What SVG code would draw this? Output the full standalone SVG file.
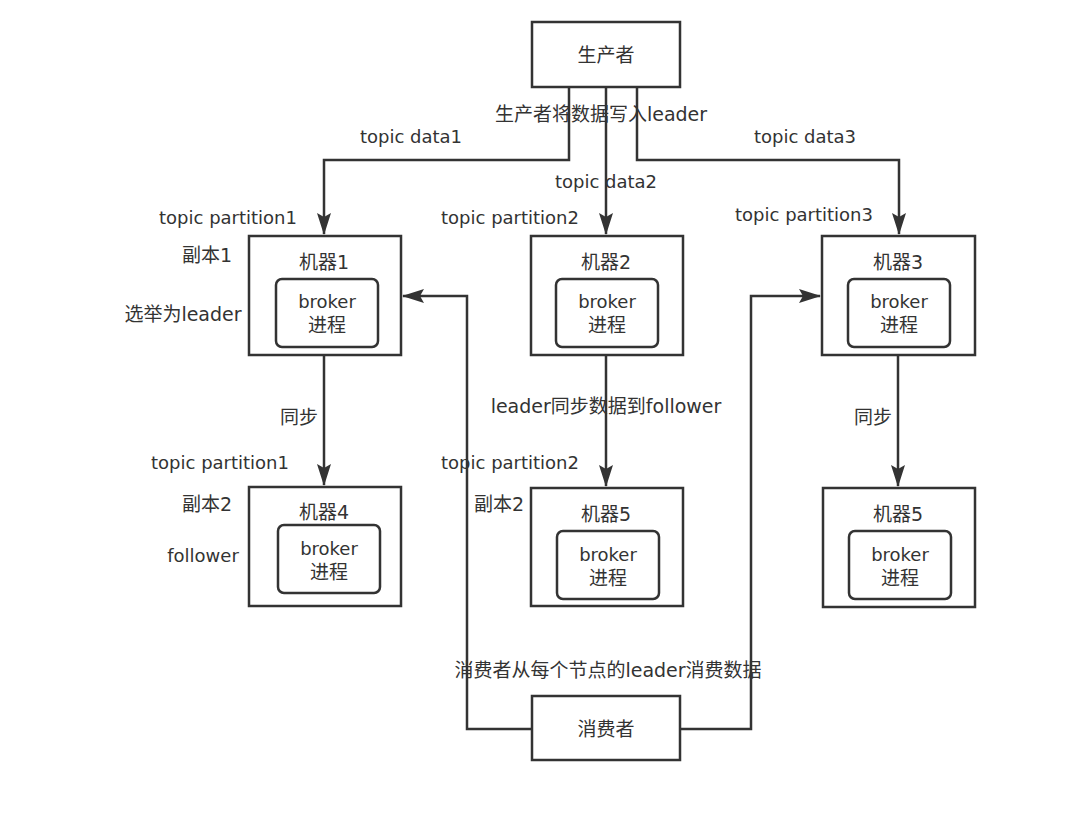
<svg xmlns="http://www.w3.org/2000/svg" width="1074" height="817" viewBox="0 0 1074 817">
<style>
.box{fill:#fff;stroke:#333;stroke-width:2.5}
.inner{fill:#fff;stroke:#333;stroke-width:2.5}
.ln{fill:none;stroke:#333;stroke-width:2.5}
text{font-family:"DejaVu Sans","Noto Sans CJK SC",sans-serif;font-size:18px;fill:#333;text-anchor:middle;dominant-baseline:central}
.cjk{font-size:19px}
</style>
<defs>
<marker id="ah" markerWidth="22" markerHeight="14" viewBox="0 0 22 14" refX="21" refY="7" orient="auto" markerUnits="userSpaceOnUse">
<path d="M0,0 L22,7 L0,14 L4,7 Z" fill="#333"/>
</marker>
</defs>
<rect width="1074" height="817" fill="#fff"/>
<g id="connectors">
<polyline class="ln" points="569,87 569,160 324,160 324,234" marker-end="url(#ah)"/>
<line class="ln" x1="606" y1="87" x2="606" y2="234" marker-end="url(#ah)"/>
<polyline class="ln" points="637,87 637,160 899,160 899,234" marker-end="url(#ah)"/>
<line class="ln" x1="324" y1="355" x2="324" y2="485" marker-end="url(#ah)"/>
<line class="ln" x1="606" y1="355" x2="606" y2="486" marker-end="url(#ah)"/>
<line class="ln" x1="898" y1="355" x2="898" y2="486" marker-end="url(#ah)"/>
<polyline class="ln" points="532,729 467,729 467,296 403,296" marker-end="url(#ah)"/>
<polyline class="ln" points="680,729 751,729 751,296 820,296" marker-end="url(#ah)"/>
<text x="411" y="136">topic data1</text>
<text x="601" y="114" class="cjk">生产者将数据写入leader</text>
<text x="805" y="136">topic data3</text>
<text x="606" y="181">topic data2</text>
<text x="228" y="217">topic partition1</text>
<text x="510" y="217">topic partition2</text>
<text x="804" y="214">topic partition3</text>
<text x="207" y="255" class="cjk">副本1</text>
<text x="183" y="314" class="cjk">选举为leader</text>
<text x="299" y="417" class="cjk">同步</text>
<text x="606" y="406" class="cjk">leader同步数据到follower</text>
<text x="873" y="417" class="cjk">同步</text>
<text x="220" y="462">topic partition1</text>
<text x="510" y="462">topic partition2</text>
<text x="207" y="504" class="cjk">副本2</text>
<text x="499" y="504" class="cjk">副本2</text>
<text x="203" y="555">follower</text>
<text x="608" y="670" class="cjk">消费者从每个节点的leader消费数据</text>
</g>
<g id="producer">
<rect class="box" x="532" y="22" width="148" height="65"/>
<text x="606" y="55" class="cjk">生产者</text>
</g>
<g id="m1">
<rect class="box" x="249" y="236" width="152" height="119"/>
<text x="324" y="262" class="cjk">机器1</text>
<rect class="inner" x="276" y="279" width="102" height="68" rx="6"/>
<text x="327" y="301">broker</text>
<text x="327" y="325" class="cjk">进程</text>
</g>
<g id="m2">
<rect class="box" x="531" y="236" width="152" height="119"/>
<text x="606" y="262" class="cjk">机器2</text>
<rect class="inner" x="556" y="279" width="102" height="68" rx="6"/>
<text x="607" y="301">broker</text>
<text x="607" y="325" class="cjk">进程</text>
</g>
<g id="m3">
<rect class="box" x="822" y="236" width="153" height="119"/>
<text x="898" y="262" class="cjk">机器3</text>
<rect class="inner" x="848" y="279" width="102" height="68" rx="6"/>
<text x="899" y="301">broker</text>
<text x="899" y="325" class="cjk">进程</text>
</g>
<g id="m4">
<rect class="box" x="249" y="487" width="152" height="119"/>
<text x="324" y="512" class="cjk">机器4</text>
<rect class="inner" x="278" y="525" width="102" height="68" rx="6"/>
<text x="329" y="548">broker</text>
<text x="329" y="572" class="cjk">进程</text>
</g>
<g id="m5a">
<rect class="box" x="531" y="488" width="152" height="118"/>
<text x="606" y="514" class="cjk">机器5</text>
<rect class="inner" x="557" y="531" width="102" height="68" rx="6"/>
<text x="608" y="554">broker</text>
<text x="608" y="578" class="cjk">进程</text>
</g>
<g id="m5b">
<rect class="box" x="823" y="488" width="152" height="119"/>
<text x="898" y="514" class="cjk">机器5</text>
<rect class="inner" x="849" y="531" width="102" height="68" rx="6"/>
<text x="900" y="554">broker</text>
<text x="900" y="578" class="cjk">进程</text>
</g>
<g id="consumer">
<rect class="box" x="532" y="696" width="148" height="64"/>
<text x="606" y="729" class="cjk">消费者</text>
</g>
</svg>
